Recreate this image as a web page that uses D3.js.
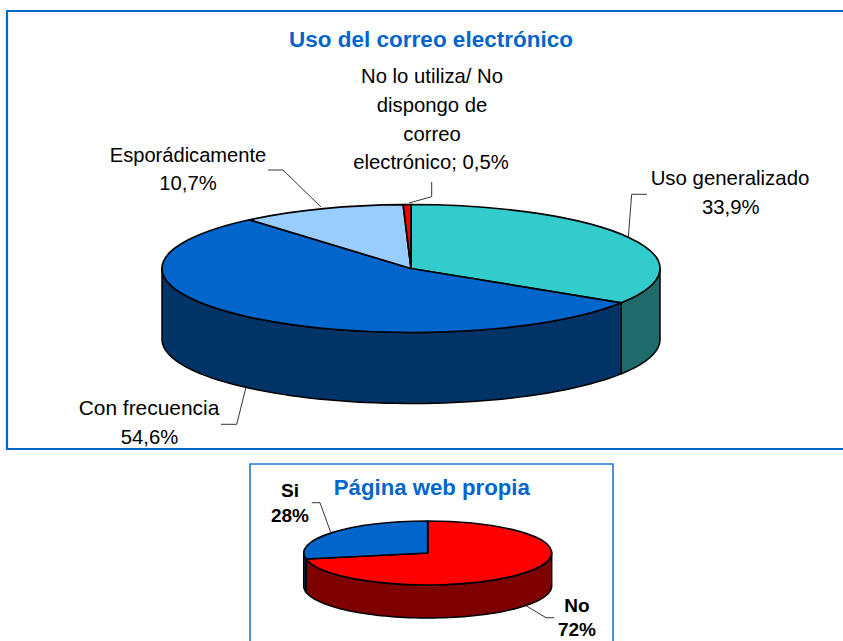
<!DOCTYPE html>
<html>

<head>
    <meta charset="utf-8">
    <title>Uso del correo electrónico</title>
    <script src="https://cdn.jsdelivr.net/npm/d3@7"></script>
    <style>
        body { margin: 0; background: #fff; }
        svg { display: block; }
        text { font-family: "Liberation Sans", Arial, sans-serif; }
    </style>
</head>

<body>
    <script type="text/javascript">
        // chart data
        var correoNames = ["Uso generalizado", "Con frecuencia", "Esporádicamente", "No lo utiliza"];
        var correoValues = [33.9, 54.6, 10.7, 0.5];
        var correoTop = ["#33CCCC", "#0066CC", "#99CCFF", "#FF0000"];
        var correoSide = ["#1F6B6B", "#003366", "#4D6680", "#800000"];

        var webNames = ["No", "Si"];
        var webValues = [72, 28];
        var webTop = ["#FF0000", "#0066CC"];
        var webSide = ["#7F0000", "#003366"];

        var svg = d3.select("body").append("svg")
            .attr("width", 843)
            .attr("height", 641);

        var blue = "#0066CC";

        // frames
        svg.append("path")
            .attr("d", "M843,11 H7 V449 H843")
            .attr("fill", "none")
            .attr("stroke", blue)
            .attr("stroke-width", 2.2);
        svg.append("path")
            .attr("d", "M250,641 V464 H613 V641")
            .attr("fill", "none")
            .attr("stroke", "#2277D0")
            .attr("stroke-width", 1.6);

        // flattened pie with a side wall, angles run clockwise from the top
        var renderPie = function (opts) {
            var g = svg.append("g");
            var pie = d3.pie().sort(null);
            var slices = pie(opts.values);
            var ratio = opts.ry / opts.rx;

            var px = function (a) { return opts.cx + opts.rx * Math.sin(a); };
            var py = function (a) { return opts.cy - opts.ry * Math.cos(a); };

            var wall = d3.area()
                .x(px)
                .y0(py)
                .y1(function (a) { return py(a) + opts.depth; });

            // only the front half of the rim can be seen
            g.selectAll("path.side")
                .data(slices)
                .enter()
                .append("path")
                .attr("class", "side")
                .attr("fill", function (d, i) { return opts.side[i]; })
                .attr("stroke", "#000")
                .attr("stroke-width", 1.5)
                .attr("stroke-linejoin", "round")
                .attr("d", function (d) {
                    var a0 = Math.max(d.startAngle, Math.PI / 2);
                    var a1 = Math.min(d.endAngle, Math.PI * 1.5);
                    if (a1 <= a0) return null;
                    var n = Math.ceil((a1 - a0) / 0.04);
                    var pts = d3.range(n + 1).map(function (k) { return a0 + (a1 - a0) * k / n; });
                    return wall(pts);
                });

            var arc = d3.arc().innerRadius(0).outerRadius(opts.rx);

            g.selectAll("path.top")
                .data(slices)
                .enter()
                .append("path")
                .attr("class", "top")
                .attr("transform", "translate(" + opts.cx + "," + opts.cy + ") scale(1," + ratio + ")")
                .attr("vector-effect", "non-scaling-stroke")
                .attr("fill", function (d, i) { return opts.top[i]; })
                .attr("stroke", "#000")
                .attr("stroke-width", 1.7)
                .attr("stroke-linejoin", "round")
                .attr("d", arc);
        };

        renderPie({ values: correoValues, top: correoTop, side: correoSide, cx: 411, cy: 268.5, rx: 249, ry: 64, depth: 71 });
        renderPie({ values: webValues, top: webTop, side: webSide, cx: 427.7, cy: 553, rx: 124, ry: 32, depth: 33 });

        // leader lines
        var leaders = [
            [[268, 170], [283, 170], [321, 207]],
            [[431.7, 182], [431.7, 196.7], [409, 203]],
            [[647, 194.3], [631.7, 194.3], [628.3, 237]],
            [[221, 424.3], [236.7, 424.3], [246, 387.3]],
            [[311.7, 502.7], [320, 502.7], [330.7, 532.3]],
            [[554.3, 617.7], [546, 617.7], [526, 605.7]]
        ];
        svg.selectAll("path.leader")
            .data(leaders)
            .enter()
            .append("path")
            .attr("class", "leader")
            .attr("fill", "none")
            .attr("stroke", "#000")
            .attr("stroke-width", 0.8)
            .attr("d", d3.line());

        // text
        var labels = [
            { t: "Uso del correo electrónico", x: 431, y: 46.7, size: 22.5, bold: true, fill: blue },
            { t: "No lo utiliza/ No", x: 432, y: 83, size: 20.3 },
            { t: "dispongo de", x: 432, y: 112, size: 20.3 },
            { t: "correo", x: 432, y: 140.5, size: 20.3 },
            { t: "electrónico; 0,5%", x: 431, y: 169, size: 20.3 },
            { t: "Esporádicamente", x: 188, y: 161.7, size: 20.1 },
            { t: "10,7%", x: 188, y: 189.5, size: 20.3 },
            { t: "Uso generalizado", x: 730, y: 185, size: 20.4 },
            { t: "33,9%", x: 730.7, y: 214, size: 20.3 },
            { t: "Con frecuencia", x: 149, y: 415, size: 20.9 },
            { t: "54,6%", x: 149.5, y: 444, size: 20.3 },
            { t: "Página web propia", x: 431.8, y: 495, size: 22.2, bold: true, fill: blue },
            { t: "Si", x: 290, y: 496.7, size: 19, bold: true },
            { t: "28%", x: 290, y: 522, size: 19, bold: true },
            { t: "No", x: 577, y: 611.7, size: 19, bold: true },
            { t: "72%", x: 577, y: 635.7, size: 19, bold: true }
        ];
        svg.selectAll("text")
            .data(labels)
            .enter()
            .append("text")
            .attr("x", function (d) { return d.x; })
            .attr("y", function (d) { return d.y; })
            .attr("text-anchor", "middle")
            .attr("font-size", function (d) { return d.size; })
            .attr("font-weight", function (d) { return d.bold ? "bold" : "normal"; })
            .attr("fill", function (d) { return d.fill || "#000"; })
            .text(function (d) { return d.t; });
    </script>
</body>

</html>
